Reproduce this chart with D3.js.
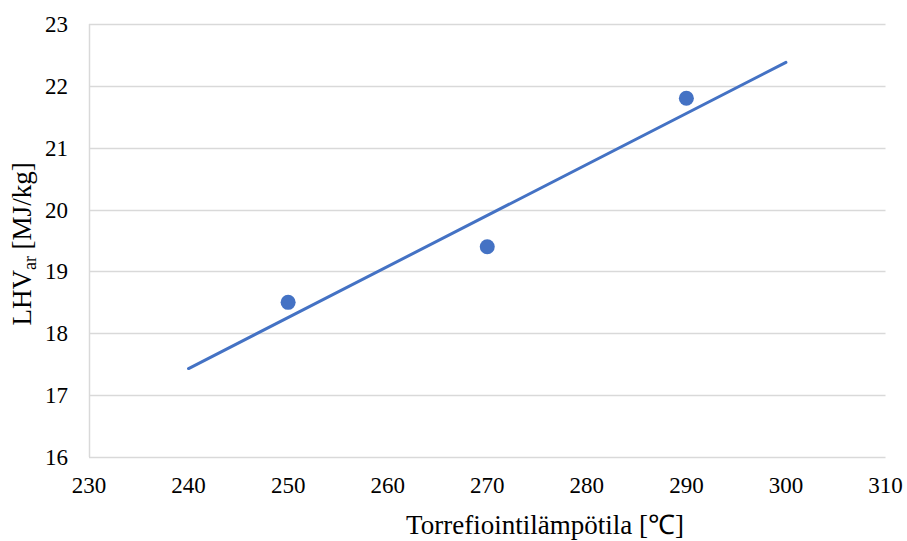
<!DOCTYPE html>
<html>
<head>
<meta charset="utf-8">
<script src="https://cdn.jsdelivr.net/npm/d3@7"></script>
<style>
  html, body { margin: 0; padding: 0; background: #fff; }
  svg { display: block; }
  svg text { font-family: "Liberation Serif", "Times New Roman", serif; fill: #000; }
</style>
</head>
<body>
<svg id="chart" width="907" height="541"></svg>
<script>
// Data
const temps = [250, 270, 290];          // torrefaction temperature [°C]
const lhv = [18.5, 19.4, 21.8];         // LHV_ar [MJ/kg]
const trendX = [240, 300];              // linear trendline ends
const trendY = [17.43, 22.38];
const xTicks = [230, 240, 250, 260, 270, 280, 290, 300, 310];
const yTicks = [16, 17, 18, 19, 20, 21, 22, 23];

const svg = d3.select("#chart");
const margin = { left: 89, right: 907 - 885.5, top: 24, bottom: 541 - 457 };
const W = 907, H = 541;
const serif = '"Liberation Serif", "Times New Roman", serif';

const x = d3.scaleLinear().domain([230, 310]).range([margin.left, W - margin.right]);
const y = d3.scaleLinear().domain([16, 23]).range([H - margin.bottom, margin.top]);

const blue = "#4472C4";
const grid = "#d9d9d9";
const fs = 23;
const tfs = 27;

// horizontal gridlines
svg.append("g").selectAll("line").data(yTicks).join("line")
  .attr("x1", x(230)).attr("x2", x(310))
  .attr("y1", d => Math.round(y(d)) + 0.5).attr("y2", d => Math.round(y(d)) + 0.5)
  .attr("stroke", grid).attr("stroke-width", 1.5);

// left axis line
svg.append("line")
  .attr("x1", Math.round(x(230)) + 0.5).attr("x2", Math.round(x(230)) + 0.5)
  .attr("y1", y(23)).attr("y2", y(16))
  .attr("stroke", grid).attr("stroke-width", 1.5);

// y tick labels
svg.append("g").selectAll("text").data(yTicks).join("text")
  .attr("x", 68).attr("y", d => y(d) + 8)
  .attr("text-anchor", "end")
  .style("font-family", serif)
  .style("font-size", fs + "px")
  .text(d => d);

// x tick labels
svg.append("g").selectAll("text").data(xTicks).join("text")
  .attr("x", d => x(d)).attr("y", 493)
  .attr("text-anchor", "middle")
  .style("font-family", serif)
  .style("font-size", fs + "px")
  .text(d => d);

// trendline
const line = d3.line().x(d => x(d[0])).y(d => y(d[1]));
svg.append("path")
  .datum(trendX.map((t, i) => [t, trendY[i]]))
  .attr("d", line)
  .attr("fill", "none").attr("stroke", blue).attr("stroke-width", 3)
  .attr("stroke-linecap", "round");

// points
svg.append("g").selectAll("circle").data(temps.map((t, i) => [t, lhv[i]])).join("circle")
  .attr("cx", d => x(d[0])).attr("cy", d => y(d[1])).attr("r", 7.5)
  .attr("fill", blue);

// x axis title
svg.append("text")
  .attr("x", 545).attr("y", 534)
  .attr("text-anchor", "middle")
  .style("font-family", serif)
  .style("font-size", tfs + "px")
  .text("Torrefiointilämpötila [℃]");

// y axis title
const yt = svg.append("text")
  .attr("transform", "translate(31,244) rotate(-90)")
  .attr("text-anchor", "middle")
  .style("font-family", serif)
  .style("font-size", tfs + "px");
yt.append("tspan").text("LHV");
yt.append("tspan").attr("dy", 5).style("font-size", "18px").text("ar");
yt.append("tspan").attr("dy", -5).text(" [MJ/kg]");
</script>
</body>
</html>
